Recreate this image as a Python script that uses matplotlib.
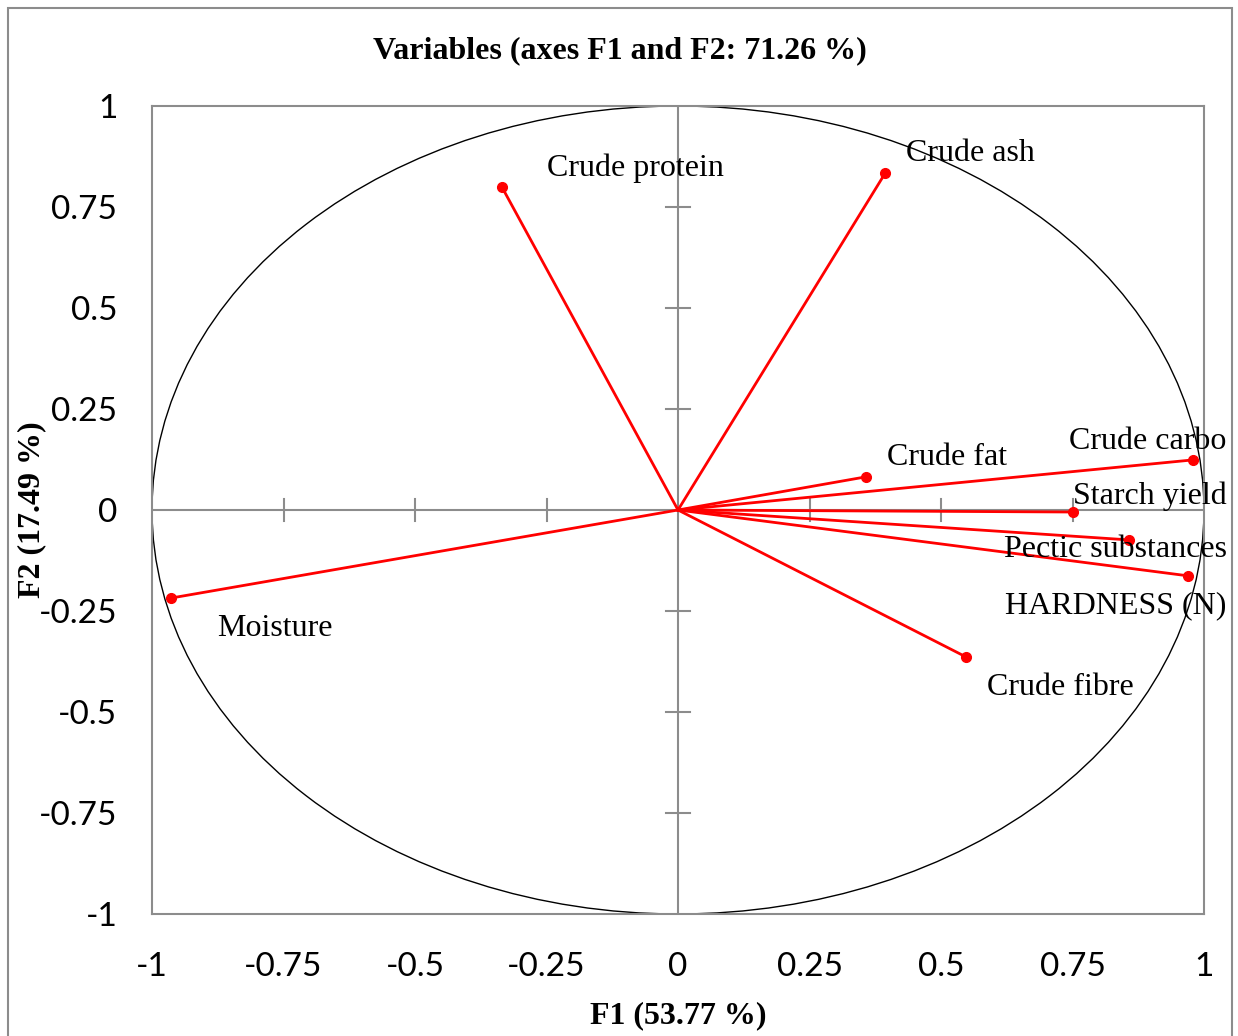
import numpy as np
import matplotlib.pyplot as plt
from matplotlib.patches import Ellipse, Rectangle

# correlation circle loadings on F1 / F2
variables = ["Crude protein", "Crude ash", "Crude fat", "Crude carbo", "Starch yield",
             "Pectic substances", "HARDNESS (N)", "Crude fibre", "Moisture"]
f1 = [-0.335, 0.394, 0.357, 0.979, 0.751, 0.857, 0.970, 0.548, -0.964]
f2 = [0.800, 0.834, 0.082, 0.124, -0.005, -0.074, -0.163, -0.364, -0.218]
ticks = [-1, -0.75, -0.5, -0.25, 0, 0.25, 0.5, 0.75, 1]
tick_labels = ["-1", "-0.75", "-0.5", "-0.25", "0", "0.25", "0.5", "0.75", "1"]

# label offsets from each point, in pixels (left edge, vertical centre)
offsets = [(45, 19), (21, 20), (21, 19), (-124, 18), (0, 16),
           (-125, -10), (-183, -30), (21, -30), (46, -30)]

grey = "#8c8c8c"
serif = "Liberation Serif"
sans = ["Lato", "DejaVu Sans"]

fig = plt.figure(figsize=(12.38, 10.36), dpi=100)
fig.patches.append(Rectangle((8 / 1238, -0.05), 1224 / 1238, 1.05 - 8 / 1036,
                             transform=fig.transFigure, fill=False,
                             edgecolor=grey, lw=1.5))
ax = fig.add_axes([152 / 1238, 1 - 914 / 1036, 1052 / 1238, 808 / 1036])
ax.set_xlim(-1, 1)
ax.set_ylim(-1, 1)

for s in ax.spines.values():
    s.set_color(grey)
    s.set_linewidth(1.5)

# central axes with crossing ticks
ax.axhline(0, color=grey, lw=1.5, zorder=1)
ax.axvline(0, color=grey, lw=1.5, zorder=1)
for t in ticks:
    if t in (-1, 0, 1):
        continue
    ax.plot([t, t], [-0.028, 0.028], color=grey, lw=1.5, zorder=1)
    ax.plot([-0.022, 0.022], [t, t], color=grey, lw=1.5, zorder=1)

ax.add_patch(Ellipse((0, 0), 2, 2, fill=False, edgecolor="black", lw=1.0, zorder=2))

for name, x, y, (dx, dy) in zip(variables, f1, f2, offsets):
    ax.plot([0, x], [0, y], color="red", lw=2, zorder=3)
    ax.plot(x, y, "o", color="red", ms=7, zorder=4)
    ax.annotate(name, (x, y), xytext=(dx, dy), textcoords="offset pixels",
                ha="left", va="center", fontsize=23, family=serif, zorder=5)

ax.set_xticks(ticks)
ax.set_yticks(ticks)
ax.set_xticklabels(tick_labels, fontsize=24, family=sans)
ax.set_yticklabels(tick_labels, fontsize=24, family=sans)
ax.tick_params(length=0)
ax.tick_params(axis="x", pad=27.5)
ax.tick_params(axis="y", pad=25)

ax.set_xlabel("F1 (53.77 %)", fontsize=23, family=serif, fontweight="bold", va="center")
ax.xaxis.set_label_coords(0.5, (914 - 1016) / 808)
ax.set_ylabel("F2 (17.49 %)", fontsize=23, family=serif, fontweight="bold", va="center")
ax.yaxis.set_label_coords((32 - 152) / 1052, 0.5)
fig.text(620 / 1238, 1 - 51 / 1036, "Variables (axes F1 and F2: 71.26 %)",
         ha="center", va="center", fontsize=23, family=serif, fontweight="bold")

fig.savefig("out.png", dpi=100)
